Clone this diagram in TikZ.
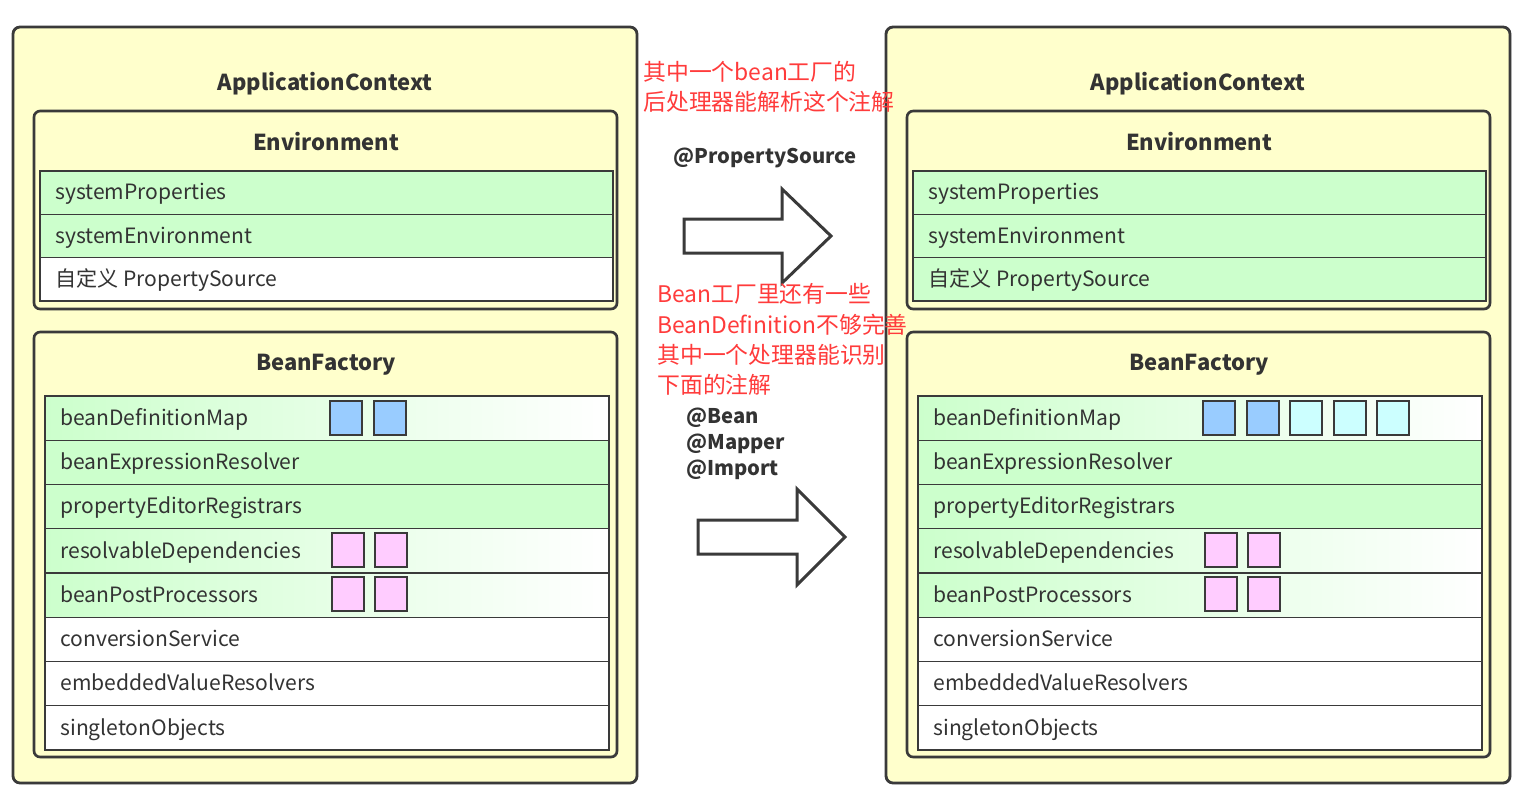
\documentclass[tikz,border=0pt]{standalone}
\usepackage{fontspec}
\setmainfont{Noto Sans CJK SC}
\usetikzlibrary{shadows}

\definecolor{ctxyellow}{HTML}{FFFFCC}
\definecolor{rowgreen}{HTML}{CCFFCC}
\definecolor{beanblue}{HTML}{99CCFF}
\definecolor{beancyan}{HTML}{CCFFFF}
\definecolor{procpink}{HTML}{FFCCFF}
\definecolor{edgegray}{HTML}{3A3A3A}
\definecolor{textgray}{HTML}{333333}
\definecolor{notered}{HTML}{FF3B3B}

\tikzset{
    outerbox/.style={draw=edgegray, line width=1.6pt, fill=ctxyellow, rounded corners=4pt,
        drop shadow={shadow xshift=.7pt, shadow yshift=-.7pt, opacity=.3}},
    innerbox/.style={draw=edgegray, line width=1.5pt, fill=ctxyellow, rounded corners=3.5pt,
        drop shadow={shadow xshift=.7pt, shadow yshift=-.7pt, opacity=.3}},
    greenrow/.style={draw=edgegray, line width=.8pt, fill=rowgreen},
    whiterow/.style={draw=edgegray, line width=.8pt, fill=white},
    fadegreen/.style={draw=edgegray, line width=.8pt, left color=rowgreen, right color=white},
    titletext/.style={font=\bfseries\fontsize{12.5}{15}\selectfont, text=textgray},
    rowtext/.style={anchor=west, inner sep=0pt, text height=10.5pt, text depth=2.3pt,
        font=\fontsize{12}{14}\selectfont, text=textgray},
    beansq/.style={draw=edgegray, line width=.9pt},
    bigarrow/.style={draw=edgegray, line width=1.7pt, fill=white, line join=miter},
    notetext/.style={anchor=west, inner sep=0pt, align=left, text=notered,
        font=\fontsize{13}{17.2}\selectfont},
    annotext/.style={inner sep=0pt, align=left, text=textgray,
        font=\bfseries\fontsize{11.5}{14.8}\selectfont}
}

% one ApplicationContext panel: #1 x shift, #2 name prefix, #3 style of the custom row
\newcommand\ctxpanel[3]{%
    \begin{scope}[shift={(#1,0)}]
        \draw[outerbox] (13,27) rectangle (637,783);
        \node[titletext] (#2ctx) at (325,83.5) {ApplicationContext};
        % Environment
        \draw[innerbox] (34,111) rectangle (617,309);
        \node[titletext] (#2env) at (326,142) {Environment};
        \draw[greenrow] (40,171) rectangle (613,214.3);
        \node[rowtext] (#2sysprops) at (55,192.7) {systemProperties};
        \draw[greenrow] (40,214.3) rectangle (613,257.6);
        \node[rowtext] (#2sysenv) at (55,236) {systemEnvironment};
        \draw[#3] (40,257.6) rectangle (613,301);
        \node[rowtext] (#2custom) at (55,279.3) {自定义 PropertySource};
        % BeanFactory
        \draw[innerbox] (34,332) rectangle (617,757);
        \node[titletext] (#2factory) at (326,365) {BeanFactory};
        \foreach \k/\name/\sty in {0/beanDefinitionMap/fadegreen, 1/beanExpressionResolver/greenrow,
            2/propertyEditorRegistrars/greenrow, 3/resolvableDependencies/fadegreen,
            4/beanPostProcessors/fadegreen, 5/conversionService/whiterow,
            6/embeddedValueResolvers/whiterow, 7/singletonObjects/whiterow} {
            \draw[\sty] (45,{396+\k*44.25}) rectangle (609,{440.25+\k*44.25});
            \node[rowtext] (#2-\name) at (60,{418.1+\k*44.25}) {\name};
        }
        \draw[beansq, fill=beanblue] (330,401) rectangle (362,435);
        \draw[beansq, fill=beanblue] (374,401) rectangle (406,435);
        \draw[beansq, fill=procpink] (332,533) rectangle (364,567);
        \draw[beansq, fill=procpink] (375,533) rectangle (407,567);
        \draw[beansq, fill=procpink] (332,577) rectangle (364,611);
        \draw[beansq, fill=procpink] (375,577) rectangle (407,611);
    \end{scope}}

\begin{document}
\begin{tikzpicture}[x=0.02cm, y=-0.02cm]
    \useasboundingbox (0,0) rectangle (1520,796);
    \fill[white] (0,0) rectangle (1520,796);

    \ctxpanel{0}{left}{whiterow}
    \ctxpanel{873}{right}{greenrow}

    % beans added by the post processors
    \draw[beansq, fill=beancyan] (1290,401) rectangle (1322,435);
    \draw[beansq, fill=beancyan] (1334,401) rectangle (1366,435);
    \draw[beansq, fill=beancyan] (1377,401) rectangle (1409,435);

    % arrows
    \draw[bigarrow] (684,219) -- (782,219) -- (782,189) -- (831,236) -- (782,283)
        -- (782,253) -- (684,253) -- cycle;
    \draw[bigarrow] (698,520) -- (797,520) -- (797,489) -- (845,537) -- (797,585)
        -- (797,554) -- (698,554) -- cycle;

    \node[notetext] (note1) at (643,87) {其中一个bean工厂的\\后处理器能解析这个注解};
    \node[annotext] (propsrc) at (765,158) {@PropertySource};
    \node[notetext] (note2) at (657,339.5) {Bean工厂里还有一些\\BeanDefinition不够完善\\其中一个处理器能识别\\下面的注解};
    \node[annotext, anchor=west] (annos) at (686,443.5) {@Bean\\@Mapper\\@Import};
\end{tikzpicture}
\end{document}
